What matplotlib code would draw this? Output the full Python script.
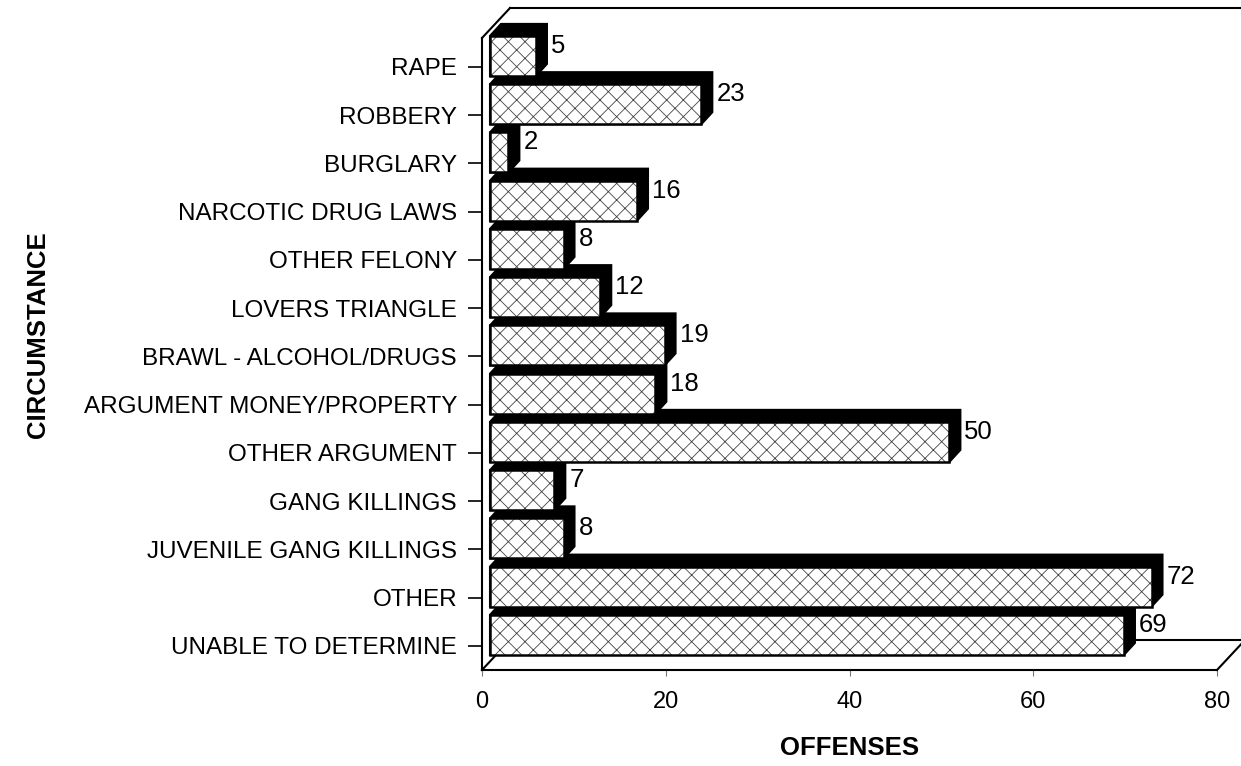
import numpy as np
import matplotlib
matplotlib.use("Agg")
import matplotlib.pyplot as plt
from matplotlib.patches import Polygon
from matplotlib.lines import Line2D

categories = ["RAPE", "ROBBERY", "BURGLARY", "NARCOTIC DRUG LAWS", "OTHER FELONY",
              "LOVERS TRIANGLE", "BRAWL - ALCOHOL/DRUGS", "ARGUMENT MONEY/PROPERTY",
              "OTHER ARGUMENT", "GANG KILLINGS", "JUVENILE GANG KILLINGS", "OTHER",
              "UNABLE TO DETERMINE"]
offenses = [5, 23, 2, 16, 8, 12, 19, 18, 50, 7, 8, 72, 69]
xticks = [0, 20, 40, 60, 80]

plt.rcParams['font.family'] = ['Liberation Sans', 'DejaVu Sans']
plt.rcParams['hatch.linewidth'] = 0.6

W, H, DPI = 1241, 766, 100
fig = plt.figure(figsize=(W / DPI, H / DPI), dpi=DPI)
ax = fig.add_axes([482 / W, (H - 670) / H, 735 / W, (670 - 38) / H])
ax.set_xlim(0, 80)
ax.set_ylim(len(categories) - 0.5, -0.6)

ypos = np.arange(len(categories))
ax.set_yticks(ypos)
ax.set_yticklabels(categories, fontsize=17.5)
ax.set_xticks(xticks)
ax.set_xticklabels([str(t) for t in xticks], fontsize=17)
ax.tick_params(axis='y', length=10, width=1.2, pad=8, direction='out')
ax.tick_params(axis='x', length=4, width=0.8, pad=11, color='#777777')
for s in ['top', 'right']:
    ax.spines[s].set_visible(False)
for s in ['left', 'bottom']:
    ax.spines[s].set_linewidth(1.5)

fig.canvas.draw()

def ax2disp(x, y, dx=0, dy=0):
    p = ax.transAxes.transform((x, y))
    return p[0] + dx, p[1] + dy

def disp2data(pts):
    return ax.transData.inverted().transform(np.array(pts))

# 3D frame lines (depth offset in pixels)
D = (28, 30)
lw = 1.5
for seg in [[ax2disp(0, 1), ax2disp(0, 1, *D)],
            [ax2disp(0, 1, *D), ax2disp(1.2, 1, *D)],
            [ax2disp(1, 0), ax2disp(1, 0, *D)],
            [ax2disp(0, 0), ax2disp(0, 0, *D)],
            [ax2disp(0, 0, *D), ax2disp(1.2, 0, *D)]]:
    d = disp2data(seg)
    ax.add_line(Line2D(d[:, 0], d[:, 1], color='k', lw=lw, clip_on=False, zorder=1))

# bars
F = (8, 11)     # front face offset
S = (11, 12)    # extrusion depth
h = 0.83
for k, v in zip(ypos, offenses):
    x0, x1 = 0, v
    yt, yb = k - h / 2, k + h / 2
    A = ax.transData.transform((x0, yb)) + F
    B = ax.transData.transform((x1, yb)) + F
    C = ax.transData.transform((x1, yt)) + F
    Dd = ax.transData.transform((x0, yt)) + F
    s = np.array(S)
    shadow = disp2data([A, B, B + s, C + s, Dd + s, Dd])
    ax.add_patch(Polygon(shadow, closed=True, facecolor='black', edgecolor='black',
                         lw=1.5, zorder=3, clip_on=False))
    face = disp2data([A, B, C, Dd])
    ax.add_patch(Polygon(face, closed=True, facecolor='white', edgecolor='#444444',
                         hatch='xx', lw=0, zorder=4, clip_on=False))
    ax.add_patch(Polygon(face, closed=True, fill=False, edgecolor='black',
                         lw=1.8, zorder=5, clip_on=False))
    # value label at right of extruded back face
    lp = (C + s + B + s) / 2 + np.array([4, -2])
    ld = disp2data([lp])[0]
    ax.text(ld[0], ld[1], str(v), fontsize=18.5, ha='left', va='center',
            zorder=6, clip_on=False)

fig.text(38 / W, 1 - 335 / H, 'CIRCUMSTANCE', rotation=90, fontsize=18.5,
         fontweight='bold', ha='center', va='center')
fig.text(850 / W, 1 - 748 / H, 'OFFENSES', fontsize=18.5, fontweight='bold',
         ha='center', va='center')

fig.savefig('out.png', dpi=DPI)
